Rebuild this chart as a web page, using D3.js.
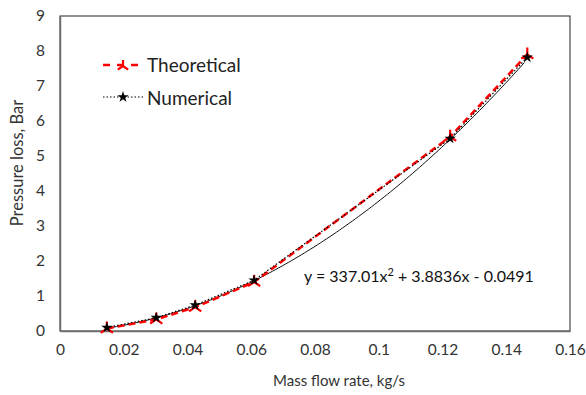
<!DOCTYPE html>
<html>
<head>
<meta charset="utf-8">
<script src="https://cdn.jsdelivr.net/npm/d3@7"></script>
<style>
  body { margin: 0; background: #fff; }
  svg { display: block; font-family: Lato, "Open Sans", sans-serif; }
</style>
</head>
<body>
<svg id="chart" width="586" height="395"></svg>
<script>
// mass flow rate, kg/s
const massFlow = [0.0147, 0.0302, 0.0424, 0.0609, 0.1224, 0.1466];
const theoretical = [0.07, 0.33, 0.68, 1.40, 5.55, 7.90];
const numerical = [0.10, 0.38, 0.74, 1.45, 5.50, 7.82];
// trendline shown on chart: y = a x^2 + b x + c
const trendCoef = [337.01, 3.8836, -0.0491];
const xTicks = [0, 0.02, 0.04, 0.06, 0.08, 0.1, 0.12, 0.14, 0.16];
const yTicks = [0, 1, 2, 3, 4, 5, 6, 7, 8, 9];

const MARGIN = { LEFT: 60, TOP: 16, RIGHT: 16, BOTTOM: 64 };
const W = 586, H = 395;
const INNER_WIDTH = W - MARGIN.LEFT - MARGIN.RIGHT;
const INNER_HEIGHT = H - MARGIN.TOP - MARGIN.BOTTOM;

const svg = d3.select('#chart');
const chart = svg.append('g')
    .attr('transform', `translate(${MARGIN.LEFT}, ${MARGIN.TOP})`);

const xScale = d3.scaleLinear().domain([0, 0.16]).range([0, INNER_WIDTH]);
const yScale = d3.scaleLinear().domain([0, 9]).range([INNER_HEIGHT, 0]);

// plot border
chart.append('rect')
    .attr('width', INNER_WIDTH)
    .attr('height', INNER_HEIGHT)
    .attr('fill', 'none')
    .attr('stroke', '#222')
    .attr('stroke-width', 1);

// axes
const xAxis = d3.axisBottom(xScale).tickValues(xTicks).tickSize(0).tickPadding(13)
    .tickFormat(d => d === 0 ? '0' : String(+d.toFixed(2)));
const yAxis = d3.axisLeft(yScale).tickValues(yTicks).tickSize(0).tickPadding(15)
    .tickFormat(d3.format('d'));

chart.append('g')
    .attr('transform', `translate(0, ${INNER_HEIGHT})`)
    .call(xAxis)
    .call(g => g.select('.domain').attr('stroke', '#6e6e6e').attr('stroke-width', 1.5))
    .selectAll('text')
    .attr('font-size', 15.5).attr('fill', '#333').attr('font-family', 'Lato, sans-serif');

chart.append('g')
    .call(yAxis)
    .call(g => g.select('.domain').attr('stroke', '#6e6e6e').attr('stroke-width', 1.5))
    .selectAll('text')
    .attr('font-size', 15.5).attr('fill', '#333').attr('font-family', 'Lato, sans-serif');

// axis titles
svg.append('text')
    .attr('x', 339).attr('y', 386)
    .attr('text-anchor', 'middle')
    .attr('font-size', 15).attr('fill', '#333')
    .text('Mass flow rate, kg/s');

svg.append('text')
    .attr('transform', 'translate(23, 163) rotate(-90)')
    .attr('text-anchor', 'middle')
    .attr('font-size', 16.5).attr('fill', '#333')
    .text('Pressure loss, Bar');

const line = d3.line()
    .x(d => xScale(d[0]))
    .y(d => yScale(d[1]));

// polynomial trendline
const trendX = d3.range(massFlow[0], massFlow[massFlow.length - 1] + 1e-6, 0.001);
const trendPts = trendX.map(x => [x, trendCoef[0] * x * x + trendCoef[1] * x + trendCoef[2]]);
chart.append('path')
    .attr('d', line(trendPts))
    .attr('fill', 'none')
    .attr('stroke', '#111')
    .attr('stroke-width', 1);

const theoPts = massFlow.map((x, i) => [x, theoretical[i]]);
const numPts = massFlow.map((x, i) => [x, numerical[i]]);

chart.append('path')
    .attr('d', line(theoPts))
    .attr('fill', 'none')
    .attr('stroke', '#ff0000')
    .attr('stroke-width', 2.5)
    .attr('stroke-dasharray', '7,4');

chart.append('path')
    .attr('d', line(numPts))
    .attr('fill', 'none')
    .attr('stroke', '#000')
    .attr('stroke-width', 1.2)
    .attr('stroke-dasharray', '1.5,2');

// tri-star marker for theoretical
const triStar = (g, r) => {
    g.append('path')
        .attr('d', `M0,0L0,${-r}M0,0L${-r * 0.87},${r * 0.6}M0,0L${r * 0.87},${r * 0.6}`)
        .attr('fill', 'none')
        .attr('stroke', '#ff0000')
        .attr('stroke-width', 2.2);
};

chart.selectAll('.theo-marker')
    .data(theoPts)
    .enter()
    .append('g')
    .attr('class', 'theo-marker')
    .attr('transform', d => `translate(${xScale(d[0])}, ${yScale(d[1])})`)
    .each(function () { triStar(d3.select(this), 7); });

const starSym = d3.symbol().type(d3.symbolStar).size(40);
chart.selectAll('.num-marker')
    .data(numPts)
    .enter()
    .append('path')
    .attr('class', 'num-marker')
    .attr('transform', d => `translate(${xScale(d[0])}, ${yScale(d[1])})`)
    .attr('d', starSym)
    .attr('fill', '#000');

// equation label
const eq = svg.append('text')
    .attr('x', 304).attr('y', 282)
    .attr('font-size', 16).attr('fill', '#111');
eq.append('tspan').text('y = 337.01x');
eq.append('tspan').attr('dy', -6).attr('font-size', 11).text('2');
eq.append('tspan').attr('dy', 6).text(' + 3.8836x - 0.0491');

// legend
const legend = svg.append('g');
const l1 = legend.append('g').attr('transform', 'translate(0, 65)');
l1.append('line').attr('x1', 103).attr('x2', 143).attr('y1', 0).attr('y2', 0)
    .attr('stroke', '#ff0000').attr('stroke-width', 2.5).attr('stroke-dasharray', '7,7');
triStar(l1.append('g').attr('transform', 'translate(123, 1)'), 6);
l1.append('text').attr('x', 147).attr('y', 7).attr('font-size', 19).attr('fill', '#222').text('Theoretical');

const l2 = legend.append('g').attr('transform', 'translate(0, 97)');
l2.append('line').attr('x1', 103).attr('x2', 143).attr('y1', 0).attr('y2', 0)
    .attr('stroke', '#000').attr('stroke-width', 1.2).attr('stroke-dasharray', '1.5,2');
l2.append('path').attr('transform', 'translate(123, 0)').attr('d', starSym).attr('fill', '#000');
l2.append('text').attr('x', 147).attr('y', 8).attr('font-size', 19).attr('fill', '#222').text('Numerical');
</script>
</body>
</html>
